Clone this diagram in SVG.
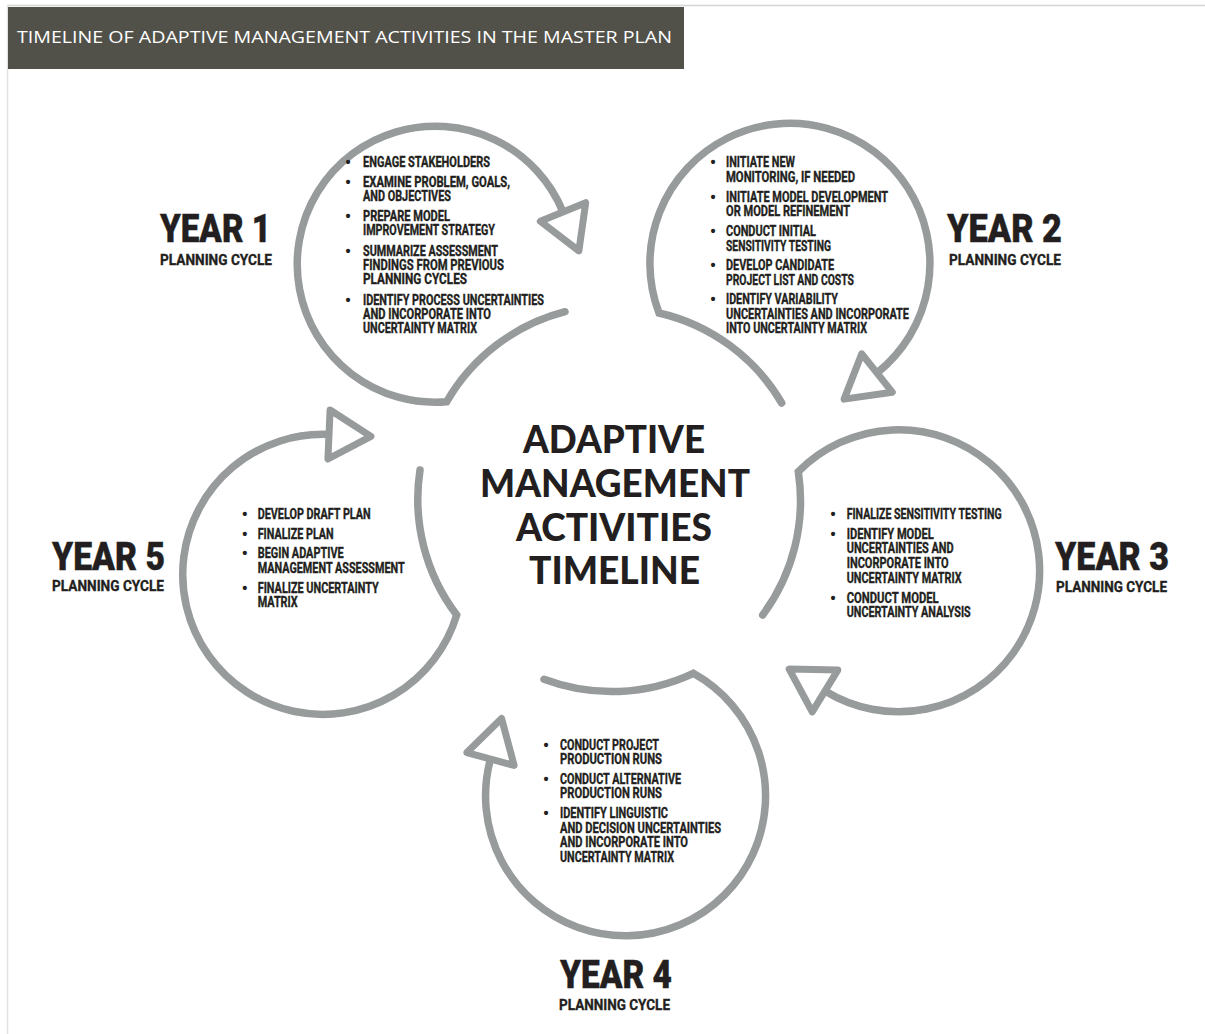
<svg xmlns="http://www.w3.org/2000/svg" width="1205" height="1034" viewBox="0 0 1205 1034">
<style>
.loop{fill:none;stroke:#989b9b;stroke-width:7.5;stroke-linecap:round;stroke-linejoin:miter;stroke-miterlimit:4;marker-end:url(#arr)}
.b{font-family:Roboto,"Liberation Sans",sans-serif;font-weight:700;font-size:13.8px;fill:#231f20;stroke:#231f20;stroke-width:0.35}
.dot{font-family:"Liberation Sans",sans-serif;font-size:14.5px;stroke-width:0}
.yr{font-family:Roboto,"Liberation Sans",sans-serif;font-weight:900;font-size:38px;fill:#231f20;stroke:#231f20;stroke-width:0.4}
.pc{font-size:15.3px;font-weight:700;stroke:#231f20;stroke-width:0.35}
.ctr{font-family:Lato,"Liberation Sans",sans-serif;font-weight:900;font-size:37px;fill:#231f20}
</style>
<defs>
<marker id="arr" markerUnits="userSpaceOnUse" markerWidth="120" markerHeight="120" viewBox="-60 -60 120 120" refX="0" refY="0" orient="auto" overflow="visible">
<path d="M0,-24.5 L42,0 L0,24.5 Z" fill="#fff" stroke="#989b9b" stroke-width="7" stroke-linejoin="round"/>
</marker>
</defs>
<rect width="1205" height="1034" fill="#fff"/>
<line x1="7" y1="5.5" x2="1205" y2="5.5" stroke="#d4d4d4" stroke-width="1.5"/>
<line x1="7.5" y1="5" x2="7.5" y2="1034" stroke="#e2e2e2" stroke-width="1.5"/>
<g id="header">
<rect x="8" y="7" width="676" height="62" fill="#51514a"/>
<text x="17" y="43" font-family="'Open Sans','Liberation Sans',sans-serif" font-size="17" font-weight="500" fill="#fff" textLength="655" lengthAdjust="spacingAndGlyphs">TIMELINE OF ADAPTIVE MANAGEMENT ACTIVITIES IN THE MASTER PLAN</text>
</g>
<g id="connectors">
<path class="loop" d="M565,311.7 A192,192 0 0 0 446.7,401.7 A138,138 0 1 1 563,212"/>
<path class="loop" d="M781.7,403 A192,192 0 0 0 659,313 A140,140 0 1 1 877,373"/>
<path class="loop" d="M762.7,615 A192,192 0 0 0 798.3,471.7 A141,141 0 1 1 825,691"/>
<path class="loop" d="M544,679.3 A192,192 0 0 0 693.3,673.3 A140,140 0 1 1 490.5,759"/>
<path class="loop" d="M420,470 A192,192 0 0 0 456.7,615 A140,140 0 1 1 329,434.5"/>
</g>
<g id="center">
<text class="ctr"><tspan x="523" y="453" textLength="182" lengthAdjust="spacingAndGlyphs">ADAPTIVE</tspan><tspan x="480" y="497" textLength="270" lengthAdjust="spacingAndGlyphs">MANAGEMENT</tspan><tspan x="516" y="541" textLength="196" lengthAdjust="spacingAndGlyphs">ACTIVITIES</tspan><tspan x="529" y="584" textLength="171" lengthAdjust="spacingAndGlyphs">TIMELINE</tspan></text>
</g>
<g id="year1">
<text class="yr"><tspan x="160" y="242" textLength="111" lengthAdjust="spacingAndGlyphs">YEAR 1</tspan><tspan class="pc" x="160" y="264.5" textLength="112" lengthAdjust="spacingAndGlyphs">PLANNING CYCLE</tspan></text>
<text class="b"><tspan class="dot" x="345.5" y="167.3">•</tspan><tspan x="363" y="167.3" textLength="127" lengthAdjust="spacingAndGlyphs">ENGAGE STAKEHOLDERS</tspan><tspan class="dot" x="345.5" y="186.7">•</tspan><tspan x="363" y="186.7" textLength="147" lengthAdjust="spacingAndGlyphs">EXAMINE PROBLEM, GOALS,</tspan><tspan x="363" y="201" textLength="88" lengthAdjust="spacingAndGlyphs">AND OBJECTIVES</tspan><tspan class="dot" x="345.5" y="220.7">•</tspan><tspan x="363" y="220.7" textLength="87" lengthAdjust="spacingAndGlyphs">PREPARE MODEL</tspan><tspan x="363" y="235.3" textLength="132" lengthAdjust="spacingAndGlyphs">IMPROVEMENT STRATEGY</tspan><tspan class="dot" x="345.5" y="255.7">•</tspan><tspan x="363" y="255.7" textLength="135" lengthAdjust="spacingAndGlyphs">SUMMARIZE ASSESSMENT</tspan><tspan x="363" y="270" textLength="141" lengthAdjust="spacingAndGlyphs">FINDINGS FROM PREVIOUS</tspan><tspan x="363" y="284.3" textLength="104" lengthAdjust="spacingAndGlyphs">PLANNING CYCLES</tspan><tspan class="dot" x="345.5" y="305">•</tspan><tspan x="363" y="305" textLength="181" lengthAdjust="spacingAndGlyphs">IDENTIFY PROCESS UNCERTAINTIES</tspan><tspan x="363" y="319.3" textLength="128" lengthAdjust="spacingAndGlyphs">AND INCORPORATE INTO</tspan><tspan x="363" y="333.3" textLength="114" lengthAdjust="spacingAndGlyphs">UNCERTAINTY MATRIX</tspan></text>
</g>
<g id="year2">
<text class="yr"><tspan x="947" y="242" textLength="115" lengthAdjust="spacingAndGlyphs">YEAR 2</tspan><tspan class="pc" x="949" y="264.5" textLength="112" lengthAdjust="spacingAndGlyphs">PLANNING CYCLE</tspan></text>
<text class="b"><tspan class="dot" x="710.5" y="167.3">•</tspan><tspan x="726" y="167.3" textLength="69" lengthAdjust="spacingAndGlyphs">INITIATE NEW</tspan><tspan x="726" y="181.7" textLength="129" lengthAdjust="spacingAndGlyphs">MONITORING, IF NEEDED</tspan><tspan class="dot" x="710.5" y="201.7">•</tspan><tspan x="726" y="201.7" textLength="162" lengthAdjust="spacingAndGlyphs">INITIATE MODEL DEVELOPMENT</tspan><tspan x="726" y="216" textLength="124" lengthAdjust="spacingAndGlyphs">OR MODEL REFINEMENT</tspan><tspan class="dot" x="710.5" y="235.7">•</tspan><tspan x="726" y="235.7" textLength="90" lengthAdjust="spacingAndGlyphs">CONDUCT INITIAL</tspan><tspan x="726" y="250.7" textLength="105" lengthAdjust="spacingAndGlyphs">SENSITIVITY TESTING</tspan><tspan class="dot" x="710.5" y="270">•</tspan><tspan x="726" y="270" textLength="108" lengthAdjust="spacingAndGlyphs">DEVELOP CANDIDATE</tspan><tspan x="726" y="285" textLength="128" lengthAdjust="spacingAndGlyphs">PROJECT LIST AND COSTS</tspan><tspan class="dot" x="710.5" y="304.3">•</tspan><tspan x="726" y="304.3" textLength="112" lengthAdjust="spacingAndGlyphs">IDENTIFY VARIABILITY</tspan><tspan x="726" y="319.3" textLength="183" lengthAdjust="spacingAndGlyphs">UNCERTAINTIES AND INCORPORATE</tspan><tspan x="726" y="333.3" textLength="141" lengthAdjust="spacingAndGlyphs">INTO UNCERTAINTY MATRIX</tspan></text>
</g>
<g id="year3">
<text class="yr"><tspan x="1055" y="569.5" textLength="114" lengthAdjust="spacingAndGlyphs">YEAR 3</tspan><tspan class="pc" x="1056" y="591.5" textLength="111" lengthAdjust="spacingAndGlyphs">PLANNING CYCLE</tspan></text>
<text class="b"><tspan class="dot" x="830.5" y="519">•</tspan><tspan x="846.7" y="519" textLength="155" lengthAdjust="spacingAndGlyphs">FINALIZE SENSITIVITY TESTING</tspan><tspan class="dot" x="830.5" y="539">•</tspan><tspan x="846.7" y="539" textLength="87" lengthAdjust="spacingAndGlyphs">IDENTIFY MODEL</tspan><tspan x="846.7" y="553.3" textLength="107" lengthAdjust="spacingAndGlyphs">UNCERTAINTIES AND</tspan><tspan x="846.7" y="568.3" textLength="102" lengthAdjust="spacingAndGlyphs">INCORPORATE INTO</tspan><tspan x="846.7" y="582.7" textLength="115" lengthAdjust="spacingAndGlyphs">UNCERTAINTY MATRIX</tspan><tspan class="dot" x="830.5" y="602.7">•</tspan><tspan x="846.7" y="602.7" textLength="92" lengthAdjust="spacingAndGlyphs">CONDUCT MODEL</tspan><tspan x="846.7" y="617.3" textLength="124" lengthAdjust="spacingAndGlyphs">UNCERTAINTY ANALYSIS</tspan></text>
</g>
<g id="year4">
<text class="yr"><tspan x="560" y="988" textLength="112" lengthAdjust="spacingAndGlyphs">YEAR 4</tspan><tspan class="pc" x="559" y="1009.5" textLength="111" lengthAdjust="spacingAndGlyphs">PLANNING CYCLE</tspan></text>
<text class="b"><tspan class="dot" x="543.5" y="750">•</tspan><tspan x="560" y="750" textLength="99" lengthAdjust="spacingAndGlyphs">CONDUCT PROJECT</tspan><tspan x="560" y="764.3" textLength="102" lengthAdjust="spacingAndGlyphs">PRODUCTION RUNS</tspan><tspan class="dot" x="543.5" y="784.3">•</tspan><tspan x="560" y="784.3" textLength="121" lengthAdjust="spacingAndGlyphs">CONDUCT ALTERNATIVE</tspan><tspan x="560" y="798.3" textLength="102" lengthAdjust="spacingAndGlyphs">PRODUCTION RUNS</tspan><tspan class="dot" x="543.5" y="818.3">•</tspan><tspan x="560" y="818.3" textLength="108" lengthAdjust="spacingAndGlyphs">IDENTIFY LINGUISTIC</tspan><tspan x="560" y="833.3" textLength="161" lengthAdjust="spacingAndGlyphs">AND DECISION UNCERTAINTIES</tspan><tspan x="560" y="847.3" textLength="128" lengthAdjust="spacingAndGlyphs">AND INCORPORATE INTO</tspan><tspan x="560" y="861.7" textLength="114" lengthAdjust="spacingAndGlyphs">UNCERTAINTY MATRIX</tspan></text>
</g>
<g id="year5">
<text class="yr"><tspan x="52" y="570" textLength="113" lengthAdjust="spacingAndGlyphs">YEAR 5</tspan><tspan class="pc" x="52" y="591" textLength="112" lengthAdjust="spacingAndGlyphs">PLANNING CYCLE</tspan></text>
<text class="b"><tspan class="dot" x="242.2" y="519.3">•</tspan><tspan x="257.7" y="519.3" textLength="113" lengthAdjust="spacingAndGlyphs">DEVELOP DRAFT PLAN</tspan><tspan class="dot" x="242.2" y="539">•</tspan><tspan x="257.7" y="539" textLength="76" lengthAdjust="spacingAndGlyphs">FINALIZE PLAN</tspan><tspan class="dot" x="242.2" y="558.3">•</tspan><tspan x="257.7" y="558.3" textLength="86" lengthAdjust="spacingAndGlyphs">BEGIN ADAPTIVE</tspan><tspan x="257.7" y="572.7" textLength="147" lengthAdjust="spacingAndGlyphs">MANAGEMENT ASSESSMENT</tspan><tspan class="dot" x="242.2" y="593.3">•</tspan><tspan x="257.7" y="593.3" textLength="121" lengthAdjust="spacingAndGlyphs">FINALIZE UNCERTAINTY</tspan><tspan x="257.7" y="607.3" textLength="40" lengthAdjust="spacingAndGlyphs">MATRIX</tspan></text>
</g>
</svg>
